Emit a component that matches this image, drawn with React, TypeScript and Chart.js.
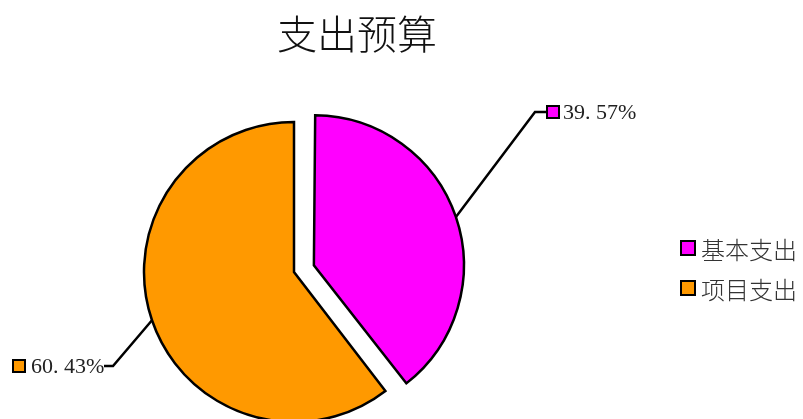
import { useEffect, useRef } from "react";
import { Chart, registerables } from "chart.js";
Chart.register(...registerables);

const title = "支出预算";
const categories = ["基本支出", "项目支出"];
const values = [39.57, 60.43];
const valueLabels = ["39. 57%", "60. 43%"];
const colors = ["#FF00FF", "#FF9900"];
const explode = [84, 0];

const W = 803;
const H = 419;
const RADIUS = 150;
const CJK = '"Noto Sans CJK SC", sans-serif';
const SERIF = '"Liberation Serif", "DejaVu Serif", serif';

const labelLayout = [
  { elbow: [535, 112], end: [546, 112], box: [547, 106], textX: 563, textY: 113 },
  { elbow: [113, 366], end: [104, 366], box: [13, 360], textX: 31, textY: 367 },
];

const decorPlugin = {
  id: "decor",
  beforeDatasetsDraw(chart: any) {
    const meta = chart.getDatasetMeta(0);
    meta.data.forEach((arc: any, i: number) => {
      const off = (explode[i] || 0) / 4;
      const circ = arc.endAngle - arc.startAngle;
      const fix = 1 - Math.sin(Math.min(Math.PI, circ));
      arc.outerRadius = RADIUS - off * fix;
    });
  },
  afterDraw(chart: any) {
    const ctx = chart.ctx as CanvasRenderingContext2D;
    ctx.save();
    // title
    ctx.fillStyle = "#111";
    ctx.font = `300 40px ${CJK}`;
    ctx.textAlign = "center";
    ctx.textBaseline = "middle";
    ctx.fillText(title, 357, 34);

    // legend
    ctx.textAlign = "left";
    categories.forEach((c, i) => {
      const y = 248 + i * 40;
      ctx.fillStyle = colors[i];
      ctx.fillRect(681, y - 7, 14, 14);
      ctx.strokeStyle = "#000";
      ctx.lineWidth = 2;
      ctx.strokeRect(681, y - 7, 14, 14);
      ctx.fillStyle = "#333";
      ctx.font = `300 24px ${CJK}`;
      ctx.fillText(c, 701, y + 2);
    });

    // data labels with leader lines
    const meta = chart.getDatasetMeta(0);
    meta.data.forEach((arc: any, i: number) => {
      const L = labelLayout[i];
      const mid = (arc.startAngle + arc.endAngle) / 2;
      const off = (explode[i] || 0) / 4;
      const sx = arc.x + Math.cos(mid) * (off + RADIUS);
      const sy = arc.y + Math.sin(mid) * (off + RADIUS);
      ctx.strokeStyle = "#000";
      ctx.lineWidth = 2.5;
      ctx.beginPath();
      ctx.moveTo(sx, sy);
      ctx.lineTo(L.elbow[0], L.elbow[1]);
      ctx.lineTo(L.end[0], L.end[1]);
      ctx.stroke();
      ctx.lineWidth = 2;
      ctx.fillStyle = colors[i];
      ctx.fillRect(L.box[0], L.box[1], 12, 12);
      ctx.strokeRect(L.box[0], L.box[1], 12, 12);
      ctx.fillStyle = "#222";
      ctx.font = `22px ${SERIF}`;
      ctx.textBaseline = "middle";
      ctx.fillText(valueLabels[i], L.textX, L.textY);
    });
    ctx.restore();
  },
};

export default function App() {
  const ref = useRef<HTMLCanvasElement>(null);
  useEffect(() => {
    if (!ref.current) return;
    const chart = new Chart(ref.current, {
      type: "pie",
      data: {
        labels: categories,
        datasets: [
          {
            data: values,
            backgroundColor: colors,
            borderColor: "#000",
            borderWidth: 2.5,
            borderJoinStyle: "miter",
            offset: explode,
          } as any,
        ],
      },
      options: {
        responsive: false,
        animation: false,
        radius: RADIUS,
        layout: { padding: { left: 0, right: W - 588, top: 125, bottom: 0 } },
        plugins: {
          legend: { display: false },
          title: { display: false },
          tooltip: { enabled: false },
        },
      } as any,
      plugins: [decorPlugin],
    });
    return () => chart.destroy();
  }, []);
  return (
    <div style={{ position: "fixed", left: 0, top: 0, width: W, height: H, background: "#fff" }}>
      <canvas ref={ref} width={W} height={H} style={{ width: W, height: H }} />
    </div>
  );
}
